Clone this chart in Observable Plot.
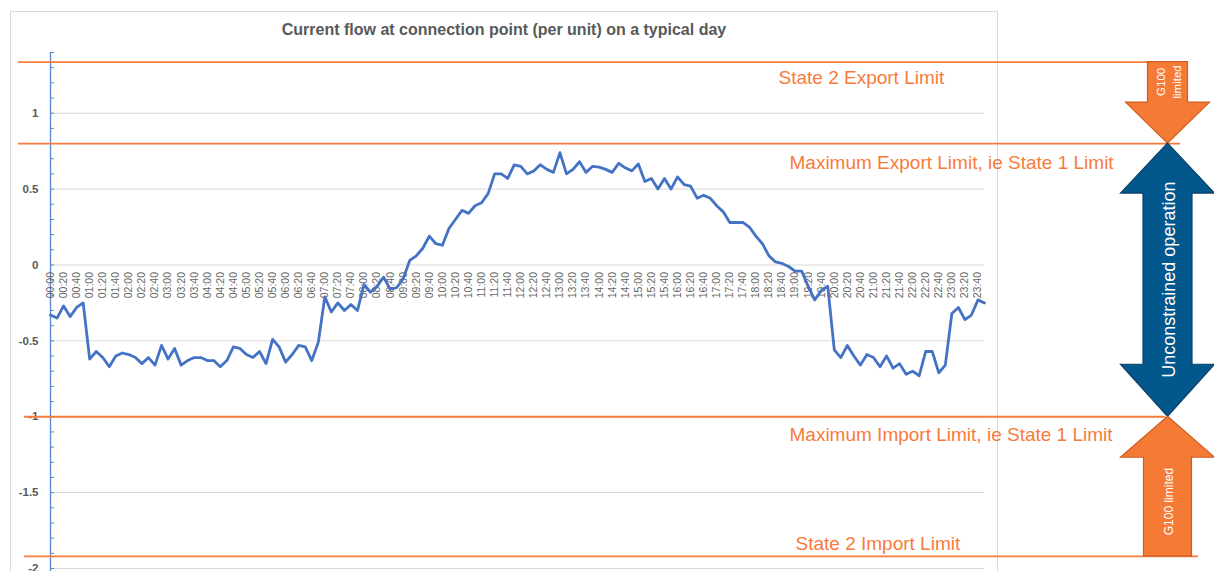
<!DOCTYPE html>
<html><head><meta charset="utf-8">
<script src="https://cdn.jsdelivr.net/npm/d3@7"></script>
<script src="https://cdn.jsdelivr.net/npm/@observablehq/plot@0.6"></script>
<style>body{margin:0;background:#fff;} #chart{width:1214px;height:571px;overflow:hidden;position:relative;}</style>
</head><body><div id="chart"></div>
<script>
// ---- data ----
const title = "Current flow at connection point (per unit) on a typical day";
const times = d3.range(144).map(i => String(Math.floor(i/6)).padStart(2,"0") + ":" + String((i%6)*10).padStart(2,"0"));
const xLabelIndex = d3.range(0, 144, 2); // a label every 20 minutes
const flow = [
-0.33,-0.35,-0.27,-0.34,-0.28,-0.25,
-0.62,-0.57,-0.61,-0.67,-0.60,-0.58,
-0.59,-0.61,-0.65,-0.61,-0.66,-0.53,
-0.62,-0.55,-0.66,-0.63,-0.61,-0.61,
-0.63,-0.63,-0.67,-0.63,-0.54,-0.55,
-0.59,-0.61,-0.57,-0.65,-0.49,-0.54,
-0.64,-0.59,-0.53,-0.54,-0.63,-0.51,
-0.21,-0.31,-0.25,-0.30,-0.26,-0.30,
-0.13,-0.18,-0.14,-0.08,-0.16,-0.15,
-0.09,0.03,0.06,0.11,0.19,0.14,
0.13,0.24,0.30,0.36,0.34,0.39,
0.41,0.47,0.60,0.60,0.57,0.66,
0.65,0.60,0.62,0.66,0.63,0.61,
0.74,0.60,0.63,0.68,0.61,0.65,
0.645,0.63,0.61,0.67,0.64,0.62,
0.665,0.55,0.57,0.50,0.57,0.50,
0.58,0.53,0.52,0.44,0.46,0.44,
0.39,0.35,0.28,0.28,0.28,0.25,
0.19,0.14,0.06,0.02,0.01,-0.01,
-0.04,-0.04,-0.14,-0.23,-0.17,-0.14,
-0.56,-0.61,-0.53,-0.60,-0.66,-0.59,
-0.61,-0.67,-0.60,-0.68,-0.65,-0.72,
-0.70,-0.73,-0.57,-0.57,-0.71,-0.66,
-0.32,-0.28,-0.36,-0.33,-0.23,-0.25
];
const yTicks = [-2, -1.5, -1, -0.5, 0, 0.5, 1];
const yMinorTicks = d3.range(-20, 15).map(k => k / 10);
const limitValues = [1.336, 0.8, -1, -1.92];
const limitLabels = ["State 2 Export Limit", "Maximum Export Limit, ie State 1 Limit", "Maximum Import Limit, ie State 1 Limit", "State 2 Import Limit"];
const arrowLabels = ["G100", "limited", "Unconstrained operation", "G100 limited"];

// ---- layout / style ----
const W = 1214, H = 571, ML = 50, MR = 230, MT = 52, MB = 3;
const FW = W - ML - MR;
const ORANGE = "#f77b3c", BLUE = "#4472c4", AXIS = "#5a85d0", GREY = "#595959", GRID = "#d9d9d9";
const FONT = "Liberation Sans, Arial, Helvetica, sans-serif";
const ruleInsets = [[-32, -196], [-32, -196], [-26, -181], [-26, -214]];
const labelDx = [728, 739, 739, 745];
const labelDy = [16, 19, 18, -12];

const limitMarks = limitValues.flatMap((v, k) => [
  Plot.ruleY([v], {stroke: ORANGE, strokeWidth: 1.8, insetLeft: ruleInsets[k][0], insetRight: ruleInsets[k][1]}),
  Plot.text([limitLabels[k]], {y: () => v, text: d => d, frameAnchor: "left", textAnchor: "start",
    dx: labelDx[k], dy: labelDy[k], fontSize: 19, fill: ORANGE, lineAnchor: "middle"})
]);

const plot = Plot.plot({
  width: W, height: H,
  marginLeft: ML, marginRight: MR, marginTop: MT, marginBottom: MB,
  x: {domain: [0, 143], axis: null},
  y: {domain: [-2, 1.4], axis: null},
  style: {fontFamily: FONT, background: "#fff", overflow: "visible"},
  marks: [
    Plot.frame({stroke: GRID, insetLeft: -40, insetRight: -13, insetTop: -41, insetBottom: -20}),
    Plot.ruleY(yTicks, {stroke: GRID, strokeWidth: 1}),
    Plot.ruleY(yMinorTicks, {stroke: AXIS, strokeWidth: 1, insetRight: FW - 4}),
    Plot.ruleX([0], {stroke: AXIS, strokeWidth: 1.3, insetBottom: -10}),
    Plot.text(yTicks, {y: d => d, text: d => String(d), frameAnchor: "left", textAnchor: "end",
      dx: -12, fontWeight: "bold", fontSize: 11.5, fill: GREY}),
    Plot.text(xLabelIndex, {x: d => d, y: () => 0, text: d => times[d], rotate: -90, textAnchor: "end",
      dy: 7, fontSize: 10.5, fill: "#666666"}),
    Plot.line(flow, {x: (d, i) => i, y: d => d, stroke: BLUE, strokeWidth: 2.8, strokeLinejoin: "round"}),
    ...limitMarks,
    Plot.text([title], {frameAnchor: "top", text: d => d, dx: -13.5, dy: -23, lineAnchor: "middle",
      fontWeight: "bold", fontSize: 16, fill: GREY})
  ]
});

// ---- right-hand arrows, positioned with the y scale ----
const ys = plot.scale("y");
const Y = v => ys.range[0] + (v - ys.domain[0]) / (ys.domain[1] - ys.domain[0]) * (ys.range[1] - ys.range[0]);
const svg = d3.select(plot);
const g = svg.append("g");
const cx = 1167.5;
function poly(pts, fill, stroke) {
  g.append("polygon").attr("points", pts.map(p => p.join(",")).join(" "))
    .attr("fill", fill).attr("stroke", stroke).attr("stroke-width", 1.2).attr("stroke-linejoin", "miter");
}
function vtext(str, x, y, size) {
  g.append("text").attr("transform", `translate(${x},${y}) rotate(-90)`)
    .attr("text-anchor", "middle").attr("dominant-baseline", "central")
    .attr("fill", "#fff").attr("font-family", FONT).attr("font-size", size).text(str);
}
const yA = Y(limitValues[0]), yB = Y(limitValues[1]), yC = Y(limitValues[2]), yD = Y(limitValues[3]);
// top orange arrow (pointing down)
poly([[cx-20,yA],[cx+20,yA],[cx+20,yB-41],[cx+42,yB-41],[cx,yB],[cx-42,yB-41],[cx-20,yB-41]], "#f47a36", "#cf5d20");
// blue double arrow
poly([[cx,yB],[cx+47,yB+50],[cx+24.5,yB+50],[cx+24.5,yC-52],[cx+47,yC-52],[cx,yC],[cx-47,yC-52],[cx-24.5,yC-52],[cx-24.5,yB+50],[cx-47,yB+50]], "#02578c", "#0d3f66");
// bottom orange arrow (pointing up)
poly([[cx,yC],[cx+47,yC+41],[cx+24,yC+41],[cx+24,yD],[cx-24,yD],[cx-24,yC+41],[cx-47,yC+41]], "#f47a36", "#cf5d20");
vtext(arrowLabels[0], cx-7, (yA + yB - 41)/2, 11.5);
vtext(arrowLabels[1], cx+9, (yA + yB - 41)/2, 11.5);
vtext(arrowLabels[2], cx+1, (yB + yC)/2, 18);
vtext(arrowLabels[3], cx+1, (yC + 41 + yD)/2 - 5, 12);

document.getElementById("chart").appendChild(plot);
</script>
</body></html>
